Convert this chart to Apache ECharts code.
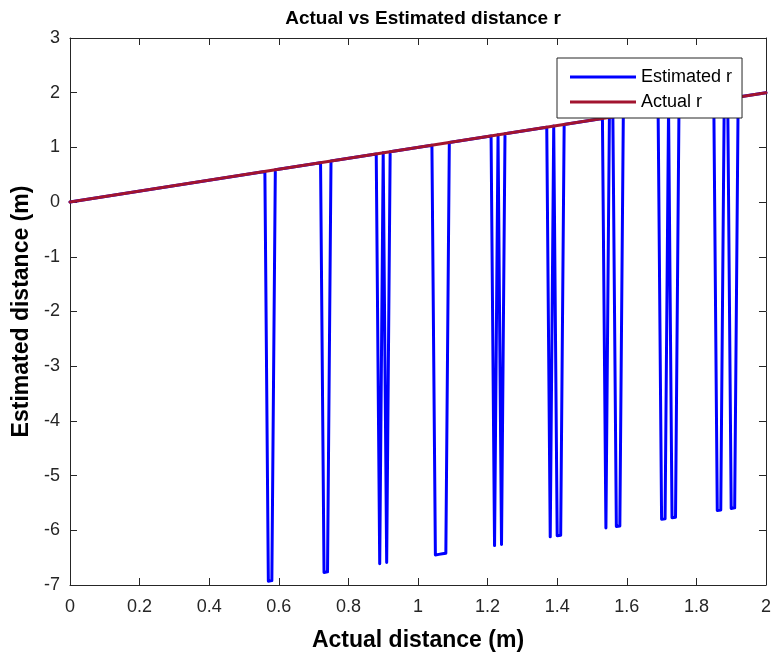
<!DOCTYPE html>
<html>
<head>
<meta charset="utf-8">
<script src="https://cdn.jsdelivr.net/npm/echarts@6/dist/echarts.min.js"></script>
<style>
  html, body { margin: 0; padding: 0; background: #fff; }
  #chart { width: 774px; height: 657px; }
</style>
</head>
<body>
<div id="chart"></div>
<script>
// Actual distance r (the reference line)
const actualX = [0, 2];
const actualY = [0, 2];

// Estimated distance r: follows the actual value except where the estimate wraps to a negative value
const estX = [0, 0.56, 0.57, 0.58, 0.59,
  0.72, 0.73, 0.74, 0.75,
  0.88, 0.89, 0.90, 0.91, 0.92,
  1.04, 1.05, 1.06, 1.07, 1.08, 1.09,
  1.21, 1.22, 1.23, 1.24, 1.25,
  1.37, 1.38, 1.39, 1.40, 1.41, 1.42,
  1.53, 1.54, 1.55, 1.56, 1.57, 1.58, 1.59,
  1.69, 1.70, 1.71, 1.72, 1.73, 1.74, 1.75,
  1.85, 1.86, 1.87, 1.88, 1.89, 1.90, 1.91, 1.92, 2.00];
const estY = [0, 0.56, -6.93, -6.92, 0.59,
  0.72, -6.77, -6.76, 0.75,
  0.88, -6.61, 0.90, -6.59, 0.92,
  1.04, -6.45, -6.44, -6.43, -6.42, 1.09,
  1.21, -6.28, 1.23, -6.26, 1.25,
  1.37, -6.12, 1.39, -6.10, -6.09, 1.42,
  1.53, -5.96, 1.55, 1.56, -5.93, -5.92, 1.59,
  1.69, -5.80, -5.79, 1.72, -5.77, -5.76, 1.75,
  1.85, -5.64, -5.63, 1.88, 1.89, -5.60, -5.59, 1.92, 2.00];

const xTicks = { min: 0, max: 2, interval: 0.2 };
const yTicks = { min: -7, max: 3, interval: 1 };

const axisColor = '#262626';
const font = '"Liberation Sans", Arial, Helvetica, sans-serif';

const pairs = (xs, ys) => xs.map((x, i) => [x, ys[i]]);

const chart = echarts.init(document.getElementById('chart'), null, { renderer: 'canvas' });

const baseX = {
  type: 'value', min: xTicks.min, max: xTicks.max, interval: xTicks.interval,
  axisLine: { show: true, onZero: false, lineStyle: { color: axisColor, width: 1 } },
  axisTick: { show: true, inside: true, length: 7, lineStyle: { color: axisColor, width: 1 } },
  splitLine: { show: false }
};
const baseY = {
  type: 'value', min: yTicks.min, max: yTicks.max, interval: yTicks.interval,
  axisLine: { show: true, onZero: false, lineStyle: { color: axisColor, width: 1 } },
  axisTick: { show: true, inside: true, length: 7, lineStyle: { color: axisColor, width: 1 } },
  splitLine: { show: false }
};

chart.setOption({
  animation: false,
  backgroundColor: '#ffffff',
  textStyle: { fontFamily: font },
  title: {
    text: 'Actual vs Estimated distance r',
    left: 418, top: 4, textAlign: 'center',
    textStyle: { fontFamily: font, fontWeight: 'bold', fontSize: 19, color: '#000' }
  },
  grid: { left: 70, right: 8, top: 38, bottom: 72, containLabel: false },
  legend: {
    orient: 'vertical',
    left: 557, top: 58,
    padding: [10, 10, 7, 13],
    itemGap: 7,
    itemWidth: 66, itemHeight: 3,
    icon: 'rect',
    backgroundColor: '#ffffff',
    borderColor: axisColor, borderWidth: 1, borderRadius: 0,
    textStyle: { fontFamily: font, fontSize: 18, color: '#000' },
    data: ['Estimated r', 'Actual r']
  },
  xAxis: [
    Object.assign({}, baseX, {
      position: 'bottom',
      name: 'Actual distance (m)', nameLocation: 'middle', nameGap: 44,
      nameTextStyle: { fontFamily: font, fontWeight: 'bold', fontSize: 23, color: '#000' },
      axisLabel: { show: true, margin: 13, fontSize: 18, color: axisColor, fontFamily: font }
    }),
    Object.assign({}, baseX, { position: 'top', axisLabel: { show: false } })
  ],
  yAxis: [
    Object.assign({}, baseY, {
      position: 'left',
      name: 'Estimated distance (m)', nameLocation: 'middle', nameGap: 31,
      nameTextStyle: { fontFamily: font, fontWeight: 'bold', fontSize: 23, color: '#000' },
      axisLabel: { show: true, margin: 10, fontSize: 18, color: axisColor, fontFamily: font }
    }),
    Object.assign({}, baseY, { position: 'right', axisLabel: { show: false } })
  ],
  series: [
    {
      name: 'Estimated r', type: 'line', xAxisIndex: 0, yAxisIndex: 0,
      data: pairs(estX, estY),
      showSymbol: false, symbol: 'none',
      color: '#0000ff',
      lineStyle: { color: '#0000ff', width: 3, join: 'round', cap: 'round' },
      itemStyle: { color: '#0000ff' },
      z: 2
    },
    {
      name: 'Actual r', type: 'line', xAxisIndex: 0, yAxisIndex: 0,
      data: pairs(actualX, actualY),
      showSymbol: false, symbol: 'none',
      color: '#a2142f',
      lineStyle: { color: '#a2142f', width: 3, cap: 'round' },
      itemStyle: { color: '#a2142f' },
      z: 3
    }
  ]
});
</script>
</body>
</html>
